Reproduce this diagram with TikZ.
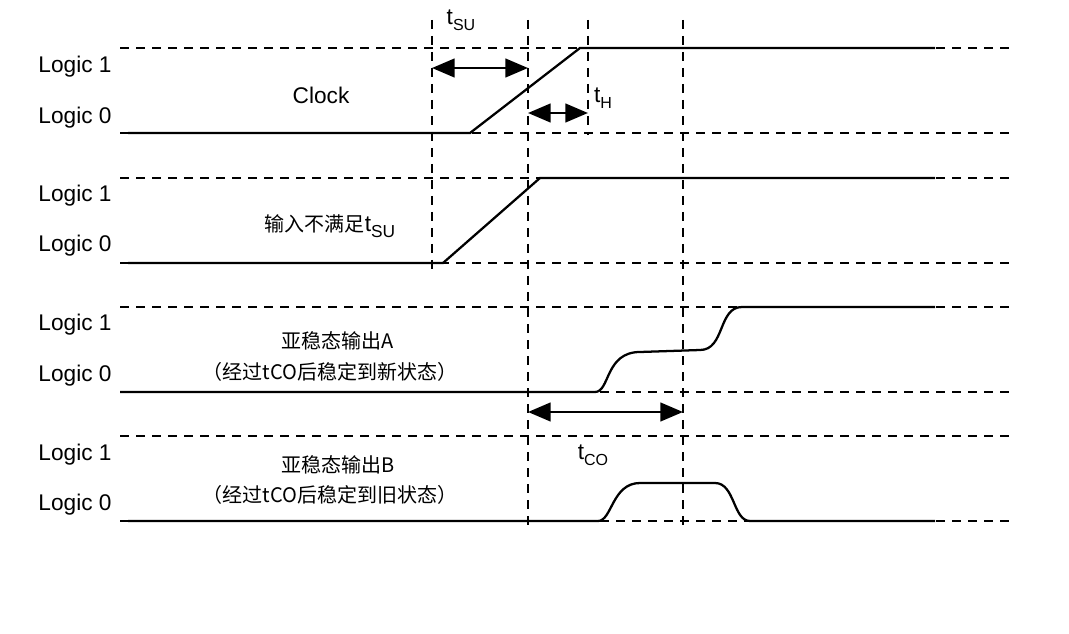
\documentclass[tikz,border=0pt]{standalone}
\usepackage{fontspec}
\setmainfont{Liberation Sans}
\newfontfamily\cjk{Noto Sans CJK SC}
\usetikzlibrary{arrows.meta}
\begin{document}
\begin{tikzpicture}[x=0.75pt,y=-0.75pt,
  dl/.style={dashed,dash pattern=on 7pt off 5pt,line width=0.9pt},
  sig/.style={line width=1.7pt},
  dim/.style={line width=1.8pt,{Triangle[length=17pt,width=14pt]}-{Triangle[length=17pt,width=14pt]}},
  lg/.style={font=\fontsize{17}{19}\selectfont},
  cn/.style={font=\cjk\fontsize{15}{18}\selectfont}]
\useasboundingbox (0,0) rectangle (1069,634);
% horizontal dashed
\foreach \y in {48,133,178,263,307,392,436,521} \draw[dl] (120,\y) -- (1015,\y);
% vertical dashed
\draw[dl] (432,20) -- (432,270);
\draw[dl] (528,20) -- (528,525);
\draw[dl] (588,20) -- (588,135);
\draw[dl] (683,20) -- (683,525);
% signals
\draw[sig] (128,133) -- (470,133) -- (580,48) -- (935,48);
\draw[sig] (128,263) -- (443,263) -- (540,178) -- (935,178);
\draw[sig] (120,392) -- (595,392) .. controls (610,392) and (605,352) .. (640,352) -- (700,350) .. controls (725,350) and (718,307) .. (742,307) -- (935,307);
\draw[sig] (128,521) -- (598,521) .. controls (612,521) and (612,483) .. (640,483) -- (715,483) .. controls (735,483) and (733,521) .. (750,521) -- (935,521);
% dimension arrows
\coordinate (s1) at (432,68); \coordinate (s2) at (528,68);
\draw[dim] (s1) -- (s2);
\coordinate (h1) at (528,113); \coordinate (h2) at (588,113);
\draw[dim] (h1) -- (h2);
\coordinate (c1) at (528,412); \coordinate (c2) at (683,412);
\draw[dim] (c1) -- (c2);
% labels
\foreach \y/\t [count=\i] in {67/1,118/0,196/1,246/0,325/1,376/0,455/1,505/0}
  \node[lg] (L\i) at (75,\y) {Logic \t};
\node[lg] (tsu) at (461,20) {t\raisebox{-0.5ex}{\fontsize{12}{12}\selectfont SU}};
\node[lg] (th) at (603,98) {t\raisebox{-0.5ex}{\fontsize{12}{12}\selectfont H}};
\node[lg] (tco) at (593,455) {t\raisebox{-0.5ex}{\fontsize{12}{12}\selectfont CO}};
\node[lg] (clk) at (321,95) {Clock};
\node[cn] (in) at (330,226) {输入不满足{\fontspec{Liberation Sans}\fontsize{17}{19}\selectfont t\raisebox{-0.5ex}{\fontsize{13}{13}\selectfont SU}}};
\node[cn] (a1) at (338,341) {亚稳态输出A};
\node[cn] (a2) at (330,372) {（经过tCO后稳定到新状态）};
\node[cn] (b1) at (338,465) {亚稳态输出B};
\node[cn] (b2) at (330,495) {（经过tCO后稳定到旧状态）};
\end{tikzpicture}
\end{document}
